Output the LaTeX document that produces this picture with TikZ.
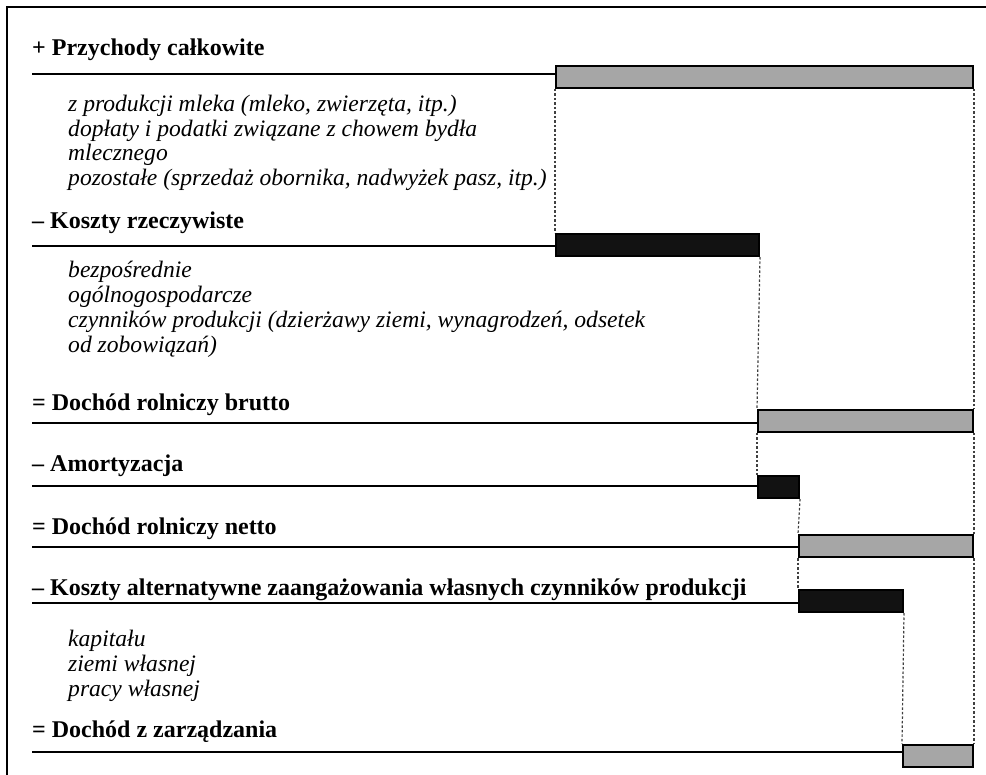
\documentclass[tikz,border=0pt]{standalone}
\usepackage{fontspec}
\setmainfont{Liberation Serif}
\begin{document}
\begin{tikzpicture}[x=1pt,y=-1pt,
  head/.style={anchor=base west,inner sep=0pt,font=\fontsize{24}{25}\selectfont\bfseries},
  item/.style={anchor=base west,inner sep=0pt,font=\fontsize{23.6}{25}\selectfont\itshape},
  bar/.style={draw=black,line width=2pt,anchor=north west,inner sep=0pt,minimum height=22pt},
  graybar/.style={bar,fill=black!35},
  blackbar/.style={bar,fill=black!93},
  rule/.style={line width=2pt},
  guide/.style={line width=1.2pt,black!75,dash pattern=on 2.5pt off 2pt}]
\useasboundingbox (0,0) rectangle (986,775);
\draw[line width=2pt] (986,7) -- (7,7) -- (7,775);
% bars
\node[graybar, minimum width=417pt] (b1) at (555,65) {};
\node[blackbar, minimum width=203pt] (b2) at (555,233) {};
\node[graybar, minimum width=215pt] (b3) at (757,409) {};
\node[blackbar, minimum width=41pt] (b4) at (757,475) {};
\node[graybar, minimum width=174pt] (b5) at (798,534) {};
\node[blackbar, minimum width=104pt] (b6) at (798,589) {};
\node[graybar, minimum width=70pt] (b7) at (902,744) {};
% guides
\draw[guide] (b1.south west) -- (b2.north west);
\draw[guide] (b1.south east) -- (b3.north east);
\draw[guide] (b3.south east) -- (b5.north east);
\draw[guide] (b5.south east) -- (b7.north east);
\draw[guide] (b2.south east) -- (b3.north west);
\draw[guide] (b3.south west) -- (b4.north west);
\draw[guide] (b4.south east) -- (b5.north west);
\draw[guide] (b5.south west) -- (b6.north west);
\draw[guide] (b6.south east) -- (b7.north west);
% headings
\node[head] (h1) at (32,56) {+ Przychody całkowite};
\node[head] (h2) at (32,229) {– Koszty rzeczywiste};
\node[head] (h3) at (32,411) {= Dochód rolniczy brutto};
\node[head] (h4) at (32,472) {– Amortyzacja};
\node[head] (h5) at (32,534) {= Dochód rolniczy netto};
\node[head] (h6) at (32,595) {– Koszty alternatywne zaangażowania własnych czynników produkcji};
\node[head] (h7) at (32,737) {= Dochód z zarządzania};
% rule lines
\coordinate (r1) at (32,74);
\coordinate (r2) at (32,246);
\coordinate (r3) at (32,423);
\coordinate (r4) at (32,486);
\coordinate (r5) at (32,547);
\coordinate (r6) at (32,603);
\coordinate (r7) at (32,752);
\draw[rule] (r1) -- (r1 -| b1.west);
\draw[rule] (r2) -- (r2 -| b2.west);
\draw[rule] (r3) -- (r3 -| b3.west);
\draw[rule] (r4) -- (r4 -| b4.west);
\draw[rule] (r5) -- (r5 -| b5.west);
\draw[rule] (r6) -- (r6 -| b6.west);
\draw[rule] (r7) -- (r7 -| b7.west);
% items
\node[item] (i1) at (68,112) {z produkcji mleka (mleko, zwierzęta, itp.)};
\node[item] (i2) at (68,137) {dopłaty i podatki związane z chowem bydła};
\node[item] (i3) at (68,161) {mlecznego};
\node[item] (i4) at (68,186) {pozostałe (sprzedaż obornika, nadwyżek pasz, itp.)};
\node[item] (i5) at (68,278) {bezpośrednie};
\node[item] (i6) at (68,303) {ogólnogospodarcze};
\node[item] (i7) at (68,328) {czynników produkcji (dzierżawy ziemi, wynagrodzeń, odsetek};
\node[item] (i8) at (68,353) {od zobowiązań)};
\node[item] (i9) at (68,646) {kapitału};
\node[item] (i10) at (68,671) {ziemi własnej};
\node[item] (i11) at (68,696) {pracy własnej};
\end{tikzpicture}
\end{document}
